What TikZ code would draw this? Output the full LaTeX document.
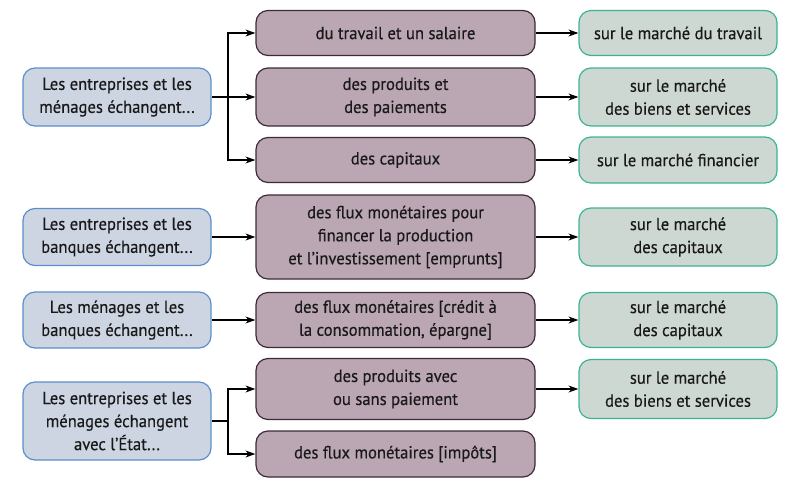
\documentclass[tikz,border=0pt]{standalone}
\usepackage{fontspec}
\setmainfont{PT Sans}[FakeStretch=0.95,FakeBold=0.4]
\usetikzlibrary{arrows.meta}
\definecolor{agentfill}{HTML}{CDD5E2}
\definecolor{agentline}{HTML}{5A8FCC}
\definecolor{fluxfill}{HTML}{BBA6B3}
\definecolor{fluxline}{HTML}{3E2A38}
\definecolor{marchefill}{HTML}{CDD8D3}
\definecolor{marcheline}{HTML}{3DB393}
\begin{document}
\begin{tikzpicture}[x=1pt,y=-1pt,
    every node/.style={align=center,font=\fontsize{17.5}{23}\selectfont,text=black!90},
    agent/.style={draw=agentline,fill=agentfill,line width=1.2pt,rounded corners=12pt,minimum width=188pt},
    flux/.style={draw=fluxline,fill=fluxfill,line width=1.2pt,rounded corners=12pt,minimum width=279pt},
    marche/.style={draw=marcheline,fill=marchefill,line width=1.2pt,rounded corners=12pt,minimum width=198pt},
    fleche/.style={-{Stealth[length=10pt,width=7pt]},line width=1.1pt}]
        \useasboundingbox (0,0) rectangle (812,491);
        \node[agent,minimum height=58pt] (l1) at (117,97) {Les entreprises et les\\ménages échangent...};
        \node[agent,minimum height=57pt] (l2) at (117,237) {Les entreprises et les\\banques échangent...};
        \node[agent,minimum height=56pt] (l3) at (117,320) {Les ménages et les\\banques échangent...};
        \node[agent,minimum height=78pt] (l4) at (117,421) {Les entreprises et les\\ménages échangent\\avec l’État...};
        \node[flux,minimum height=45pt] (m1) at (395.5,33) {du travail et un salaire};
        \node[flux,minimum height=58pt] (m2) at (395.5,97) {des produits et\\des paiements};
        \node[flux,minimum height=45pt] (m3) at (395.5,160) {des capitaux};
        \node[flux,minimum height=84pt] (m4) at (395.5,237) {des flux monétaires pour\\financer la production\\et l’investissement [emprunts]};
        \node[flux,minimum height=55pt] (m5) at (395.5,320) {des flux monétaires [crédit à\\la consommation, épargne]};
        \node[flux,minimum height=61pt] (m6) at (395.5,389) {des produits avec\\ou sans paiement};
        \node[flux,minimum height=46pt] (m7) at (395.5,454) {des flux monétaires [impôts]};
        \node[marche,minimum height=45pt] (r1) at (678,33) {sur le marché du travail};
        \node[marche,minimum height=58pt] (r2) at (678,97) {sur le marché\\des biens et services};
        \node[marche,minimum height=46pt] (r3) at (678,160) {sur le marché financier};
        \node[marche,minimum height=58pt] (r4) at (678,237) {sur le marché\\des capitaux};
        \node[marche,minimum height=55pt] (r5) at (678,320) {sur le marché\\des capitaux};
        \node[marche,minimum height=59pt] (r6) at (678,389) {sur le marché\\des biens et services};
        \coordinate (b1) at (228,97);
        \coordinate (b4) at (228,421);
        \draw[fleche] (l1) -- (m2);
        \draw[fleche] (b1) |- (m1.west);
        \draw[fleche] (b1) |- (m3.west);
        \draw[fleche] (l2) -- (m4);
        \draw[fleche] (l3) -- (m5);
        \draw[line width=1.1pt] (l4) -- (b4);
        \draw[fleche] (b4) |- (m6.west);
        \draw[fleche] (b4) |- (m7.west);
        \draw[fleche] (m1) -- (r1);
        \draw[fleche] (m2) -- (r2);
        \draw[fleche] (m3) -- (r3);
        \draw[fleche] (m4) -- (r4);
        \draw[fleche] (m5) -- (r5);
        \draw[fleche] (m6) -- (r6);
    \end{tikzpicture}
\end{document}
